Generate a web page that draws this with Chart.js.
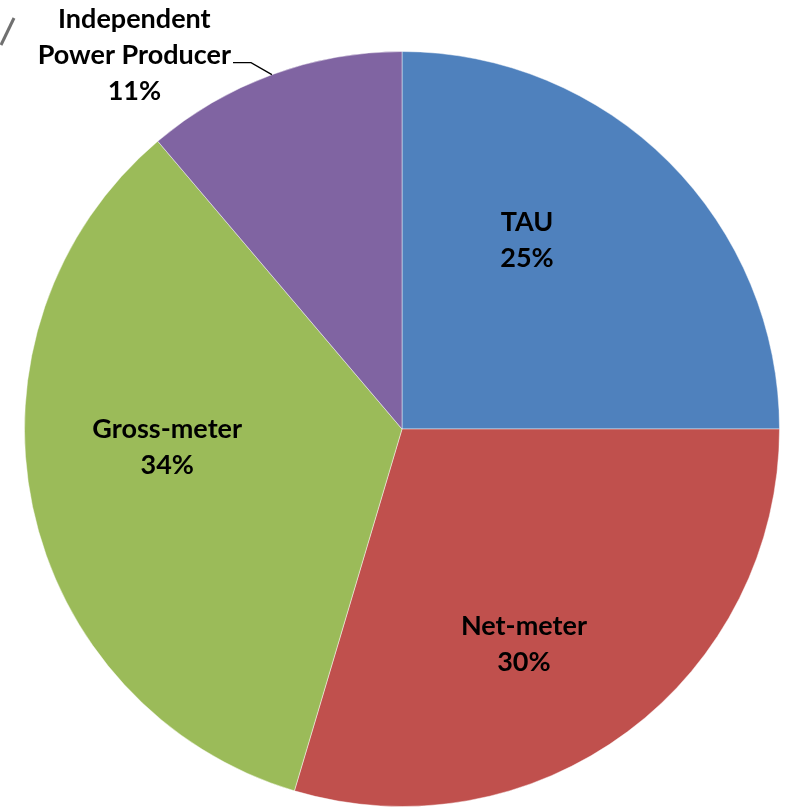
<!DOCTYPE html>
<html>
<head>
<meta charset="utf-8">
<script src="https://cdn.jsdelivr.net/npm/chart.js@4.4.1/dist/chart.umd.min.js"></script>
<style>
  html, body { margin: 0; padding: 0; background: #fff; }
  #wrap { width: 788px; height: 807px; position: relative; }
</style>
</head>
<body>
<div id="wrap"><canvas id="pieChart"></canvas></div>
<script>
// data
const categories = ['TAU', 'Net-meter', 'Gross-meter', 'Independent Power Producer'];
const shares = [25.0, 29.6, 34.2, 11.2];
const shownPct = ['25%', '30%', '34%', '11%'];
const sliceColors = ['#4F81BD', '#C0504D', '#9BBB59', '#8064A2'];

// label anchors, as fractions of the radius from the centre
const labelSpots = [
    { fx: 0.331, fy: -0.50, lines: ['TAU'] },
    { fx: 0.323, fy: 0.569, lines: ['Net-meter'] },
    { fx: -0.622, fy: 0.048, lines: ['Gross-meter'] },
    { fx: -0.709, fy: -0.989, lines: ['Independent', 'Power Producer'] }
];

const labelFont = 'bold 27px Lato, "Liberation Sans", sans-serif';
const lineGap = 36;

const labelPlugin = {
    id: 'pieLabels',
    afterDatasetsDraw(chart) {
        let ctx = chart.ctx;
        let meta = chart.getDatasetMeta(0);
        ctx.save();
        ctx.font = labelFont;
        ctx.fillStyle = '#000';
        ctx.textAlign = 'center';
        ctx.textBaseline = 'middle';
        meta.data.forEach((arc, i) => {
            let r = arc.outerRadius;
            let spot = labelSpots[i];
            let cx = arc.x + spot.fx * r;
            let cy = arc.y + spot.fy * r;
            let lines = spot.lines.concat([shownPct[i]]);
            let top = cy - (lines.length - 1) * lineGap / 2;
            lines.forEach((t, k) => ctx.fillText(t, cx, top + k * lineGap));

            // leader line for the outside label
            if (lines.length > 2) {
                let mid = (arc.startAngle + arc.endAngle) / 2;
                let ex = arc.x + Math.cos(mid) * r;
                let ey = arc.y + Math.sin(mid) * r;
                let w = ctx.measureText(spot.lines[1]).width;
                let ly = top + lineGap + 7;
                let lx = cx + w / 2 + 2;
                ctx.beginPath();
                ctx.strokeStyle = '#000';
                ctx.lineWidth = 1.3;
                ctx.moveTo(lx, ly);
                ctx.lineTo(lx + 18, ly);
                ctx.lineTo(ex, ey);
                ctx.stroke();
            }
        });
        // stray grey stroke at the top-left corner
        ctx.beginPath();
        ctx.strokeStyle = '#707070';
        ctx.lineWidth = 3;
        ctx.moveTo(14, 18);
        ctx.lineTo(1, 45);
        ctx.stroke();
        ctx.restore();
    }
};

let ctx = document.getElementById('pieChart').getContext('2d');
let chart = new Chart(ctx, {
    type: 'pie',
    data: {
        labels: categories,
        datasets: [{
            data: shares,
            backgroundColor: sliceColors,
            borderColor: 'rgba(255,255,255,0.45)',
            borderWidth: 1
        }]
    },
    options: {
        responsive: true,
        maintainAspectRatio: false,
        animation: false,
        layout: {
            padding: { left: 24, right: 8, top: 51, bottom: 0 }
        },
        plugins: {
            legend: { display: false },
            tooltip: { enabled: false }
        }
    },
    plugins: [labelPlugin]
});
</script>
</body>
</html>
